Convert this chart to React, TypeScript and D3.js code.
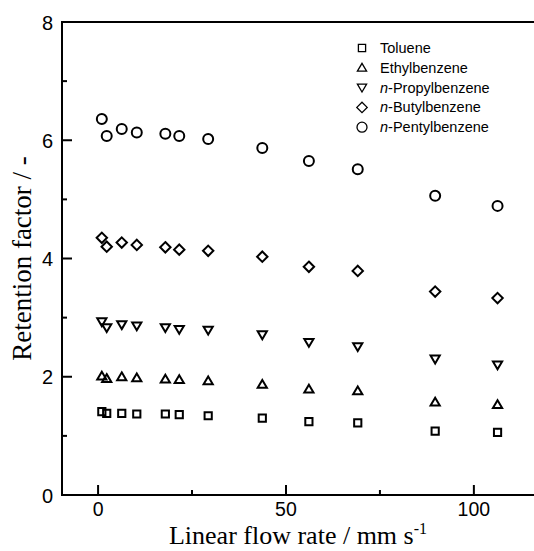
import * as d3 from "d3";
import { useEffect, useRef } from "react";

// flow rate, mm/s
const flowRate = [1.0, 2.3, 6.3, 10.3, 17.9, 21.6, 29.3, 43.7, 56.1, 69.1, 89.7, 106.3];

const toluene = [1.41, 1.38, 1.38, 1.37, 1.37, 1.36, 1.34, 1.3, 1.24, 1.22, 1.08, 1.06];
const ethylbenzene = [2.01, 1.97, 2.0, 1.98, 1.96, 1.95, 1.93, 1.87, 1.79, 1.76, 1.57, 1.53];
const propylbenzene = [2.93, 2.83, 2.88, 2.86, 2.83, 2.8, 2.79, 2.71, 2.58, 2.51, 2.3, 2.2];
const butylbenzene = [4.35, 4.2, 4.27, 4.23, 4.19, 4.15, 4.13, 4.03, 3.86, 3.79, 3.44, 3.33];
const pentylbenzene = [6.36, 6.07, 6.19, 6.13, 6.11, 6.07, 6.02, 5.87, 5.65, 5.51, 5.06, 4.89];

const seriesNames = ["Toluene", "Ethylbenzene", "n-Propylbenzene", "n-Butylbenzene", "n-Pentylbenzene"];
const markers = ["square", "up", "down", "diamond", "circle"];

const xTicks = [0, 50, 100];
const xMinor = [25, 75];
const yTicks = [0, 2, 4, 6, 8];
const yMinor = [1, 3, 5, 7];

const width = 534;
const height = 551;
const margin = { top: 22, right: 0, bottom: 56, left: 62 };

const markerPath = (kind: string, x: number, y: number) => {
  const p = d3.path();
  if (kind === "square") {
    p.rect(x - 3.6, y - 3.6, 7.2, 7.2);
  } else if (kind === "up") {
    p.moveTo(x, y - 4.4);
    p.lineTo(x + 4.6, y + 3.4);
    p.lineTo(x - 4.6, y + 3.4);
    p.closePath();
  } else if (kind === "down") {
    p.moveTo(x, y + 4.4);
    p.lineTo(x + 4.6, y - 3.4);
    p.lineTo(x - 4.6, y - 3.4);
    p.closePath();
  } else if (kind === "diamond") {
    p.moveTo(x, y - 5.2);
    p.lineTo(x + 5.2, y);
    p.lineTo(x, y + 5.2);
    p.lineTo(x - 5.2, y);
    p.closePath();
  } else {
    p.arc(x, y, 5, 0, Math.PI * 2);
  }
  return p.toString();
};

export default function App() {
  const ref = useRef<SVGSVGElement>(null);

  useEffect(() => {
    const svg = d3.select(ref.current);
    svg.selectAll("*").remove();

    const x = d3.scaleLinear().domain([-9.6, 116]).range([margin.left, width - margin.right]);
    const y = d3.scaleLinear().domain([0, 8]).range([height - margin.bottom, margin.top]);

    const all = [toluene, ethylbenzene, propylbenzene, butylbenzene, pentylbenzene];

    // frame
    svg
      .append("rect")
      .attr("x", x(-9.6))
      .attr("y", y(8))
      .attr("width", x(116) - x(-9.6) + 2)
      .attr("height", y(0) - y(8))
      .attr("fill", "none")
      .attr("stroke", "#000")
      .attr("stroke-width", 2);

    const g = svg.append("g").attr("stroke", "#000").attr("stroke-width", 2);
    xTicks.forEach((t) =>
      g.append("line").attr("x1", x(t)).attr("x2", x(t)).attr("y1", y(0)).attr("y2", y(0) - 10)
    );
    xMinor.forEach((t) =>
      g.append("line").attr("x1", x(t)).attr("x2", x(t)).attr("y1", y(0)).attr("y2", y(0) - 5)
    );
    yTicks.forEach((t) =>
      g.append("line").attr("x1", x(-9.6)).attr("x2", x(-9.6) + 10).attr("y1", y(t)).attr("y2", y(t))
    );
    yMinor.forEach((t) =>
      g.append("line").attr("x1", x(-9.6)).attr("x2", x(-9.6) + 5).attr("y1", y(t)).attr("y2", y(t))
    );

    svg
      .append("g")
      .selectAll("text")
      .data(xTicks)
      .join("text")
      .attr("x", (d) => x(d))
      .attr("y", y(0) + 21)
      .attr("text-anchor", "middle")
      .attr("font-family", "Liberation Sans, Arial, sans-serif")
      .attr("font-size", 19.5)
      .text((d) => d);

    svg
      .append("g")
      .selectAll("text")
      .data(yTicks)
      .join("text")
      .attr("x", x(-9.6) - 9)
      .attr("y", (d) => y(d) + 7.5)
      .attr("text-anchor", "end")
      .attr("font-family", "Liberation Sans, Arial, sans-serif")
      .attr("font-size", 20)
      .text((d) => d);

    // axis titles
    const xt = svg
      .append("text")
      .attr("x", 298)
      .attr("y", 544)
      .attr("text-anchor", "middle")
      .attr("font-family", "Liberation Serif, Times New Roman, serif")
      .attr("font-size", 26);
    xt.append("tspan").text("Linear flow rate / mm s");
    xt.append("tspan").attr("dy", -10).attr("font-size", 16).text("-1");

    svg
      .append("text")
      .attr("transform", `translate(31,${(y(0) + y(8)) / 2}) rotate(-90)`)
      .attr("text-anchor", "middle")
      .attr("font-family", "Liberation Serif, Times New Roman, serif")
      .attr("font-size", 27)
      .text("Retention factor / -");

    // points
    all.forEach((vals, i) => {
      svg
        .append("g")
        .selectAll("path")
        .data(vals)
        .join("path")
        .attr("d", (d, j) => markerPath(markers[i], x(flowRate[j]), y(d)))
        .attr("fill", "none")
        .attr("stroke", "#000")
        .attr("stroke-width", 2);
    });

    // legend
    const leg = svg.append("g");
    seriesNames.forEach((name, i) => {
      const ly = 48 + i * 19.8;
      leg
        .append("path")
        .attr("d", markerPath(markers[i], 362, ly))
        .attr("fill", "none")
        .attr("stroke", "#000")
        .attr("stroke-width", 1.3);
      const t = leg
        .append("text")
        .attr("x", 380)
        .attr("y", ly + 5)
        .attr("font-family", "Liberation Sans, Arial, sans-serif")
        .attr("font-size", 14.5);
      if (name.startsWith("n-")) {
        t.append("tspan").attr("font-style", "italic").text("n");
        t.append("tspan").text(name.slice(1));
      } else {
        t.text(name);
      }
    });
  }, []);

  return (
    <svg
      ref={ref}
      width={width}
      height={height}
      style={{ position: "absolute", left: 0, top: 0, background: "#fff" }}
    />
  );
}
